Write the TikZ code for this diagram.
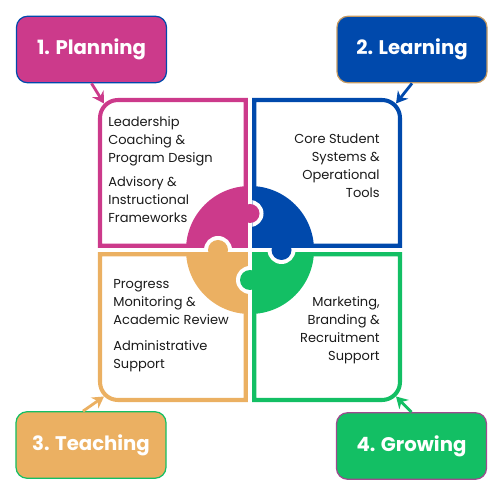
\documentclass[tikz,border=0pt]{standalone}
\usepackage{fontspec}
\setmainfont{Poppins}
\usetikzlibrary{arrows.meta}
\definecolor{plancol}{HTML}{CC3A8B}
\definecolor{learncol}{HTML}{0049AC}
\definecolor{teachcol}{HTML}{EBB062}
\definecolor{growcol}{HTML}{13BF64}
\definecolor{tancol}{HTML}{C49A62}
\definecolor{plumcol}{HTML}{9E4A8E}
\definecolor{inkcol}{HTML}{1A1A1A}

\begin{document}
\begin{tikzpicture}[
    lbl/.style={rectangle, draw, line width=0.7pt, rounded corners=0.22cm,
                minimum width=3cm, minimum height=1.33cm, text=white,
                font=\fontsize{11.2}{13}\selectfont\bfseries},
    quad/.style={line width=2.3pt},
    txt/.style={inner sep=0pt, text=inkcol,
                font=\fontsize{7.4}{10.2}\selectfont},
    arr/.style={-{Stealth[length=6.5pt, width=7.5pt]}, line width=1.6pt},
  ]
  \useasboundingbox (-5,-5) rectangle (5,5);

  % ===== Quadrant frames (one rounded outer corner each) =====
  \draw[quad, plancol] (-0.085,0.085) -- (-0.085,3) [rounded corners=0.36cm]
    -- (-3,3) [sharp corners] -- (-3,0.085) -- cycle;
  \draw[quad, learncol] (0.085,0.085) -- (0.085,3) [rounded corners=0.36cm]
    -- (3,3) [sharp corners] -- (3,0.085) -- cycle;
  \draw[quad, teachcol] (-0.085,-0.085) -- (-0.085,-3) [rounded corners=0.36cm]
    -- (-3,-3) [sharp corners] -- (-3,-0.085) -- cycle;
  \draw[quad, growcol] (0.085,-0.085) -- (0.085,-3) [rounded corners=0.36cm]
    -- (3,-3) [sharp corners] -- (3,-0.085) -- cycle;

  % ===== Puzzle circle =====
  \begin{scope}
    \clip (-2,0.045) rectangle (-0.045,2);
    \fill[plancol] (0,0) circle (1.28);
  \end{scope}
  \begin{scope}
    \clip (0.045,0.045) rectangle (2,2);
    \fill[learncol] (0,0) circle (1.28);
  \end{scope}
  \begin{scope}
    \clip (-2,-0.045) rectangle (-0.045,-2);
    \fill[teachcol] (0,0) circle (1.28);
  \end{scope}
  \begin{scope}
    \clip (0.045,-0.045) rectangle (2,-2);
    \fill[growcol] (0,0) circle (1.28);
  \end{scope}

  % Knobs: white ring cut into the neighbour, then the knob itself
  \begin{scope}
    \clip (0.045,0.045) rectangle (2,2);
    \fill[white] (0,0.73) circle (0.27);
  \end{scope}
  \fill[plancol] (0,0.73) circle (0.19);

  \begin{scope}
    \clip (0.045,-0.045) rectangle (2,-2);
    \fill[white] (0.63,0) circle (0.28);
  \end{scope}
  \fill[learncol] (0.63,0) circle (0.2);

  \begin{scope}
    \clip (-2,0.045) rectangle (-0.045,2);
    \fill[white] (-0.64,0) circle (0.28);
  \end{scope}
  \fill[teachcol] (-0.64,0) circle (0.2);

  \begin{scope}
    \clip (-2,-0.045) rectangle (-0.045,-2);
    \fill[white] (0,-0.6) circle (0.28);
  \end{scope}
  \fill[growcol] (0,-0.6) circle (0.2);

  % ===== Corner labels =====
  \node[lbl, fill=plancol, draw=learncol] (plan) at (-3.17,4.01) {1. Planning};
  \node[lbl, fill=learncol, draw=tancol] (learn) at (3.24,4.01) {2. Learning};
  \node[lbl, fill=teachcol, draw=growcol] (teach) at (-3.18,-3.9) {3. Teaching};
  \node[lbl, fill=growcol, draw=plumcol] (grow) at (3.23,-3.92) {4. Growing};

  \coordinate (plantip) at (-2.92,2.93);
  \coordinate (learntip) at (2.92,2.93);
  \coordinate (teachtip) at (-2.92,-2.93);
  \coordinate (growtip) at (2.92,-2.93);

  \draw[arr, plancol] (plan.south) -- (plantip);
  \draw[arr, learncol] (learn.south) -- (learntip);
  \draw[arr, teachcol] ([xshift=-0.16cm]teach.north) -- (teachtip);
  \draw[arr, growcol] (grow.north) -- (growtip);

  % ===== Service texts =====
  \node[txt, anchor=north west, align=left] (plantxt) at (-2.84,2.67) {%
    Leadership\\Coaching \&\\Program Design\\[3.5pt]%
    Advisory \&\\Instructional\\Frameworks};
  \node[txt, anchor=north east, align=right] (learntxt) at (2.6,2.32) {%
    Core Student\\Systems \&\\Operational\\Tools};
  \node[txt, anchor=north west, align=left] (teachtxt) at (-2.74,-0.58) {%
    Progress\\Monitoring \&\\Academic Review\\[5pt]%
    Administrative\\Support};
  \node[txt, anchor=north east, align=right] (growtxt) at (2.6,-0.92) {%
    Marketing,\\Branding \&\\Recruitment\\Support};

\end{tikzpicture}
\end{document}
